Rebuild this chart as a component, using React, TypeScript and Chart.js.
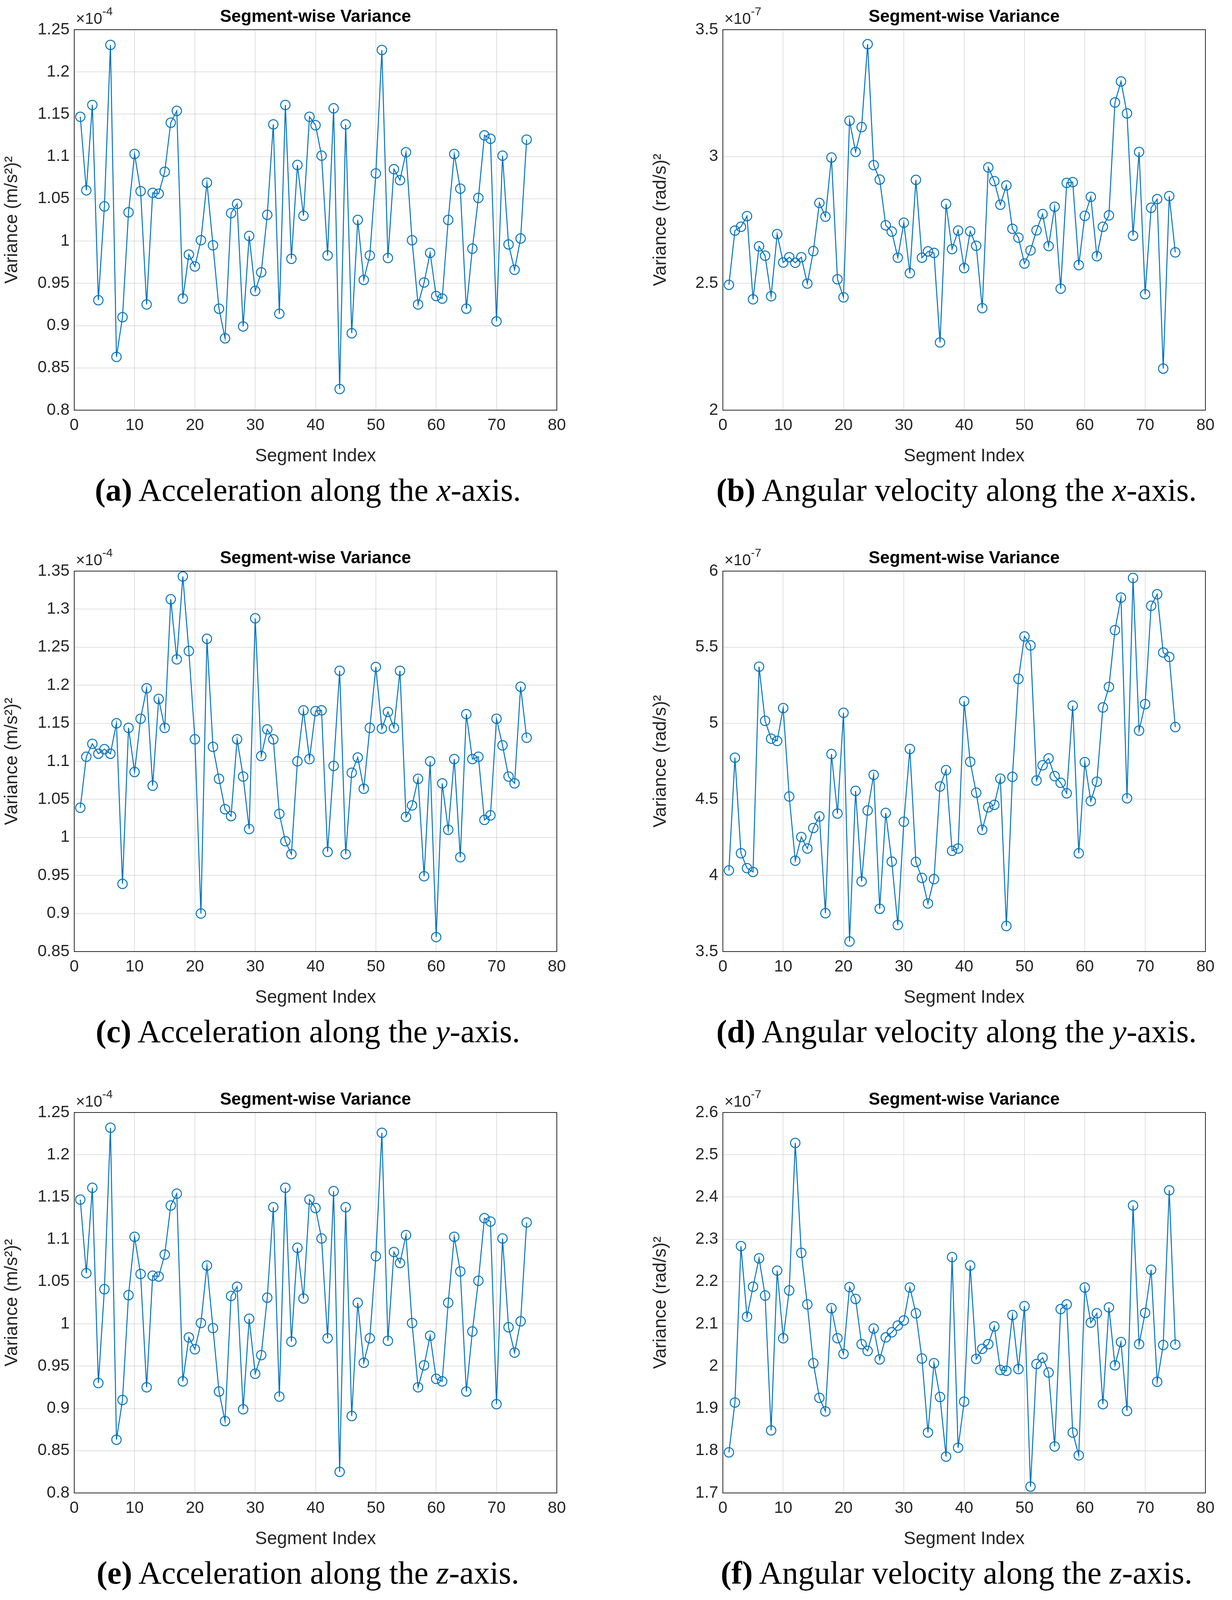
import React, { useEffect, useRef } from "react";
import { Chart, registerables } from "chart.js";

Chart.register(...registerables);

const segments = Array.from({ length: 75 }, (_, i) => i + 1);

const accX = [1.147, 1.06, 1.161, 0.93, 1.041, 1.232, 0.863, 0.91, 1.034, 1.103, 1.059, 0.925, 1.057, 1.056, 1.082, 1.14, 1.154, 0.932, 0.984, 0.97, 1.001, 1.069, 0.995, 0.92, 0.885, 1.033, 1.044, 0.899, 1.006, 0.941, 0.963, 1.031, 1.138, 0.914, 1.161, 0.979, 1.09, 1.03, 1.147, 1.137, 1.101, 0.983, 1.157, 0.825, 1.138, 0.891, 1.025, 0.954, 0.983, 1.08, 1.226, 0.98, 1.085, 1.072, 1.105, 1.001, 0.925, 0.951, 0.986, 0.935, 0.932, 1.025, 1.103, 1.062, 0.92, 0.991, 1.051, 1.125, 1.121, 0.905, 1.101, 0.996, 0.966, 1.003, 1.12];

const gyroX = [2.494, 2.708, 2.723, 2.765, 2.437, 2.646, 2.609, 2.449, 2.694, 2.582, 2.603, 2.581, 2.603, 2.499, 2.627, 2.817, 2.763, 2.996, 2.516, 2.445, 3.141, 3.018, 3.116, 3.443, 2.966, 2.909, 2.729, 2.704, 2.601, 2.739, 2.54, 2.908, 2.601, 2.626, 2.62, 2.267, 2.813, 2.635, 2.708, 2.56, 2.705, 2.648, 2.402, 2.957, 2.903, 2.81, 2.886, 2.715, 2.68, 2.578, 2.63, 2.709, 2.773, 2.647, 2.802, 2.479, 2.896, 2.899, 2.572, 2.766, 2.841, 2.607, 2.723, 2.768, 3.213, 3.296, 3.17, 2.688, 3.018, 2.457, 2.798, 2.832, 2.164, 2.844, 2.622];

const accY = [1.039, 1.106, 1.123, 1.11, 1.116, 1.11, 1.15, 0.939, 1.144, 1.086, 1.156, 1.196, 1.068, 1.182, 1.144, 1.313, 1.234, 1.343, 1.245, 1.129, 0.9, 1.261, 1.119, 1.077, 1.037, 1.028, 1.129, 1.08, 1.011, 1.288, 1.107, 1.142, 1.129, 1.031, 0.995, 0.978, 1.1, 1.167, 1.103, 1.166, 1.167, 0.981, 1.094, 1.219, 0.978, 1.085, 1.105, 1.064, 1.144, 1.224, 1.143, 1.165, 1.144, 1.219, 1.027, 1.042, 1.077, 0.949, 1.1, 0.869, 1.071, 1.01, 1.103, 0.974, 1.162, 1.103, 1.106, 1.023, 1.029, 1.156, 1.121, 1.08, 1.071, 1.198, 1.131];

const gyroY = [4.033, 4.774, 4.146, 4.048, 4.023, 5.372, 5.016, 4.899, 4.884, 5.1, 4.519, 4.097, 4.253, 4.177, 4.312, 4.388, 3.752, 4.798, 4.407, 5.069, 3.566, 4.556, 3.961, 4.427, 4.661, 3.781, 4.411, 4.091, 3.674, 4.353, 4.831, 4.089, 3.984, 3.816, 3.976, 4.585, 4.692, 4.162, 4.177, 5.145, 4.747, 4.544, 4.3, 4.448, 4.464, 4.636, 3.668, 4.648, 5.292, 5.571, 5.512, 4.624, 4.724, 4.769, 4.653, 4.609, 4.54, 5.116, 4.146, 4.745, 4.489, 4.616, 5.104, 5.239, 5.612, 5.826, 4.507, 5.955, 4.952, 5.126, 5.772, 5.848, 5.465, 5.436, 4.975];

// panel (e) in the source shows the same values as panel (a)
const accZ = [...accX];

const gyroZ = [1.796, 1.914, 2.284, 2.117, 2.188, 2.255, 2.167, 1.848, 2.226, 2.066, 2.179, 2.528, 2.268, 2.146, 2.007, 1.925, 1.893, 2.137, 2.066, 2.029, 2.187, 2.159, 2.052, 2.036, 2.089, 2.016, 2.068, 2.08, 2.096, 2.108, 2.186, 2.125, 2.018, 1.843, 2.007, 1.927, 1.786, 2.258, 1.807, 1.916, 2.238, 2.017, 2.041, 2.052, 2.094, 1.991, 1.989, 2.121, 1.993, 2.142, 1.715, 2.005, 2.02, 1.985, 1.81, 2.135, 2.146, 1.843, 1.789, 2.186, 2.103, 2.125, 1.91, 2.139, 2.002, 2.057, 1.894, 2.38, 2.052, 2.126, 2.228, 1.963, 2.05, 2.416, 2.051];

const BLUE = "#0072BD";
const SANS = "'Liberation Sans', Arial, sans-serif";

interface PanelProps {
  values: number[];
  yMin: number;
  yMax: number;
  step: number;
  exp: string;
  yLabel: string;
  tag: string;
  what: string;
  axis: string;
}

const matlabBox = {
  id: "matlabBox",
  afterDraw(chart: any, _args: any, opts: any) {
    const { ctx, chartArea: a } = chart;
    ctx.save();
    ctx.strokeStyle = "#262626";
    ctx.lineWidth = 2;
    ctx.strokeRect(a.left, a.top, a.right - a.left, a.bottom - a.top);
    ctx.fillStyle = "#000";
    ctx.font = `bold 44px ${SANS}`;
    ctx.textAlign = "center";
    ctx.textBaseline = "bottom";
    ctx.fillText("Segment-wise Variance", (a.left + a.right) / 2, a.top - 10);
    ctx.fillStyle = "#262626";
    ctx.textAlign = "left";
    ctx.font = `40px ${SANS}`;
    ctx.fillText("×10", a.left + 4, a.top - 6);
    const w = ctx.measureText("×10").width;
    ctx.font = `30px ${SANS}`;
    ctx.fillText(opts.exp, a.left + 4 + w, a.top - 30);
    ctx.restore();
  },
};

const fmt = (v: any) => String(Number(Number(v).toFixed(3)));

const Panel: React.FC<PanelProps> = (p) => {
  const canvasRef = useRef<HTMLCanvasElement | null>(null);
  const chartRef = useRef<Chart | null>(null);

  useEffect(() => {
    if (!canvasRef.current) return;
    if (chartRef.current) chartRef.current.destroy();
    const pts = segments.map((s, i) => ({ x: s, y: p.values[i] }));
    chartRef.current = new Chart(canvasRef.current, {
      type: "scatter",
      data: {
        datasets: [
          {
            data: pts,
            showLine: true,
            borderColor: BLUE,
            borderWidth: 2.5,
            pointRadius: 12,
            pointBorderWidth: 2.5,
            pointBorderColor: BLUE,
            pointBackgroundColor: "rgba(0,0,0,0)",
          },
        ],
      },
      options: {
        animation: false,
        responsive: false,
        layout: { padding: { top: 76, right: 75, bottom: 0, left: 0 } },
        scales: {
          x: {
            type: "linear",
            min: 0,
            max: 80,
            ticks: { stepSize: 10, color: "#262626", font: { size: 42, family: SANS }, padding: 14, callback: fmt },
            grid: { color: "rgba(0,0,0,0.12)", lineWidth: 2, tickLength: 0 },
            border: { display: false },
            title: { display: true, text: "Segment Index", color: "#262626", font: { size: 46, family: SANS }, padding: { top: 0 } },
            afterFit: (s: any) => { s.height = 150; },
          },
          y: {
            min: p.yMin,
            max: p.yMax,
            ticks: { stepSize: p.step, color: "#262626", font: { size: 42, family: SANS }, padding: 12, callback: fmt },
            grid: { color: "rgba(0,0,0,0.12)", lineWidth: 2, tickLength: 0 },
            border: { display: false },
            title: { display: true, text: p.yLabel, color: "#262626", font: { size: 46, family: SANS }, padding: { bottom: 4 } },
            afterFit: (s: any) => { s.width = 190; },
          },
        },
        plugins: {
          legend: { display: false },
          tooltip: { enabled: false },
          matlabBox: { exp: p.exp },
        } as any,
      },
      plugins: [matlabBox],
    });
    return () => {
      chartRef.current?.destroy();
      chartRef.current = null;
    };
  }, [p]);

  return (
    <div style={{ width: 1500, height: 1386 }}>
      <canvas ref={canvasRef} width={1500} height={1200} style={{ display: "block" }} />
      <div
        style={{
          fontFamily: "'Liberation Serif', 'DejaVu Serif', serif",
          fontSize: 82,
          lineHeight: "110px",
          textAlign: "center",
          paddingLeft: 76,
          color: "#000",
        }}
      >
        <b>({p.tag})</b> {p.what} along the <i>{p.axis}</i>-axis.
      </div>
    </div>
  );
};

const panels: PanelProps[] = [
  { values: accX, yMin: 0.8, yMax: 1.25, step: 0.05, exp: "-4", yLabel: "Variance (m/s²)²", tag: "a", what: "Acceleration", axis: "x" },
  { values: gyroX, yMin: 2, yMax: 3.5, step: 0.5, exp: "-7", yLabel: "Variance (rad/s)²", tag: "b", what: "Angular velocity", axis: "x" },
  { values: accY, yMin: 0.85, yMax: 1.35, step: 0.05, exp: "-4", yLabel: "Variance (m/s²)²", tag: "c", what: "Acceleration", axis: "y" },
  { values: gyroY, yMin: 3.5, yMax: 6, step: 0.5, exp: "-7", yLabel: "Variance (rad/s)²", tag: "d", what: "Angular velocity", axis: "y" },
  { values: accZ, yMin: 0.8, yMax: 1.25, step: 0.05, exp: "-4", yLabel: "Variance (m/s²)²", tag: "e", what: "Acceleration", axis: "z" },
  { values: gyroZ, yMin: 1.7, yMax: 2.6, step: 0.1, exp: "-7", yLabel: "Variance (rad/s)²", tag: "f", what: "Angular velocity", axis: "z" },
];

export default function App() {
  useEffect(() => {
    document.body.style.margin = "0";
    document.body.style.background = "#fff";
  }, []);
  return (
    <div style={{ display: "grid", gridTemplateColumns: "1500px 1500px", columnGap: 160, width: 3153 }}>
      {panels.map((p) => (
        <Panel key={p.tag} {...p} />
      ))}
    </div>
  );
}
